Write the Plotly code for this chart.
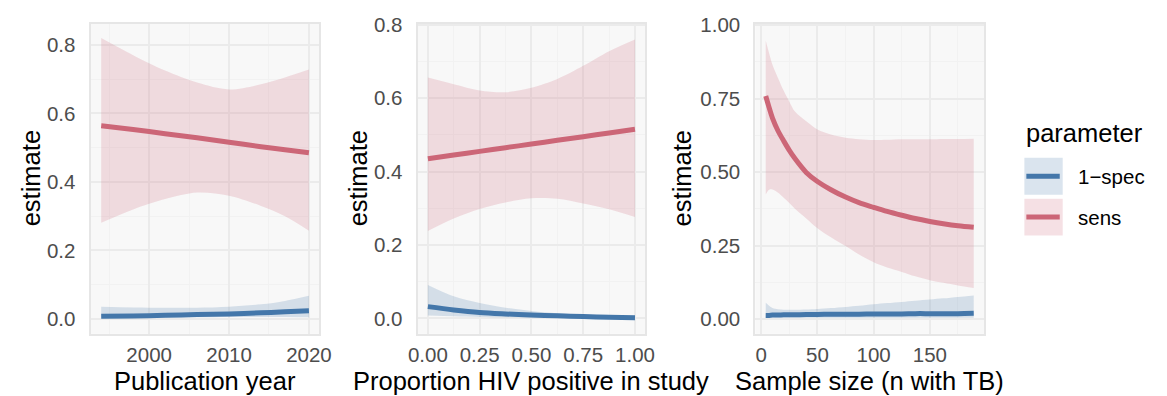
import plotly.graph_objects as go

W, H = 1167, 396

# ---- Publication year panel ----
year = [1994, 1998, 2002, 2006, 2010, 2014, 2017, 2020]
year_sens = [0.564, 0.553, 0.541, 0.529, 0.516, 0.503, 0.494, 0.485]
year_sens_lo = [0.281, 0.320, 0.350, 0.369, 0.360, 0.330, 0.300, 0.258]
year_sens_hi = [0.820, 0.770, 0.725, 0.690, 0.670, 0.685, 0.705, 0.728]
year_spec = [0.008, 0.009, 0.011, 0.013, 0.015, 0.018, 0.021, 0.024]
year_spec_lo = [0.002, 0.003, 0.004, 0.005, 0.006, 0.006, 0.006, 0.005]
year_spec_hi = [0.036, 0.034, 0.033, 0.033, 0.036, 0.043, 0.053, 0.068]

# ---- Proportion HIV positive panel ----
hiv = [0.0, 0.125, 0.25, 0.375, 0.5, 0.625, 0.75, 0.875, 1.0]
hiv_sens = [0.435, 0.445, 0.455, 0.465, 0.475, 0.485, 0.495, 0.505, 0.515]
hiv_sens_lo = [0.238, 0.272, 0.298, 0.316, 0.327, 0.326, 0.313, 0.297, 0.276]
hiv_sens_hi = [0.656, 0.638, 0.621, 0.616, 0.628, 0.652, 0.688, 0.728, 0.760]
hiv_spec = [0.032, 0.023, 0.016, 0.012, 0.009, 0.007, 0.005, 0.003, 0.002]
hiv_spec_lo = [0.008, 0.006, 0.004, 0.003, 0.002, 0.002, 0.001, 0.001, 0.001]
hiv_spec_hi = [0.091, 0.060, 0.042, 0.029, 0.020, 0.014, 0.011, 0.009, 0.007]

# ---- Sample size panel ----
ntb = [4, 7, 10, 15, 20, 25, 30, 40, 50, 62, 75, 87, 100, 112, 125, 137, 150, 162, 175, 189]
ntb_sens = [0.759, 0.720, 0.684, 0.640, 0.606, 0.574, 0.546, 0.499, 0.468, 0.440,
            0.415, 0.396, 0.380, 0.366, 0.353, 0.342, 0.332, 0.324, 0.317, 0.312]
ntb_sens_lo = [0.424, 0.440, 0.441, 0.430, 0.413, 0.395, 0.375, 0.342, 0.309, 0.278,
               0.248, 0.219, 0.193, 0.175, 0.160, 0.145, 0.132, 0.123, 0.114, 0.105]
ntb_sens_hi = [0.948, 0.905, 0.866, 0.820, 0.777, 0.740, 0.706, 0.673, 0.645, 0.628,
               0.617, 0.612, 0.609, 0.610, 0.612, 0.612, 0.612, 0.613, 0.613, 0.614]
ntb_spec = [0.012, 0.012, 0.013, 0.013, 0.014, 0.014, 0.014, 0.015, 0.015, 0.016,
            0.016, 0.016, 0.017, 0.017, 0.017, 0.018, 0.018, 0.018, 0.018, 0.019]
ntb_spec_lo = [0.005, 0.005, 0.005, 0.004, 0.004, 0.004, 0.004, 0.004, 0.004, 0.004,
               0.004, 0.004, 0.004, 0.004, 0.004, 0.004, 0.004, 0.004, 0.004, 0.004]
ntb_spec_hi = [0.055, 0.045, 0.037, 0.033, 0.031, 0.031, 0.031, 0.032, 0.034, 0.037,
               0.041, 0.045, 0.050, 0.054, 0.058, 0.062, 0.066, 0.070, 0.075, 0.080]

parameters = ["1\u2212spec", "sens"]
x_titles = ["Publication year", "Proportion HIV positive in study", "Sample size (n with TB)"]

BLUE = "#4477AA"
RED = "#CC6677"
BLUE_FILL = "rgba(68,119,170,0.2)"
RED_FILL = "rgba(204,102,119,0.2)"
FONT = "Liberation Sans, Arial, Helvetica, sans-serif"
TICK_SIZE = 20.5
TITLE_SIZE = 25.5

panels = [
    (year, year_spec, year_spec_lo, year_spec_hi, year_sens, year_sens_lo, year_sens_hi),
    (hiv, hiv_spec, hiv_spec_lo, hiv_spec_hi, hiv_sens, hiv_sens_lo, hiv_sens_hi),
    (ntb, ntb_spec, ntb_spec_lo, ntb_spec_hi, ntb_sens, ntb_sens_lo, ntb_sens_hi),
]

# panel boxes in pixels: (left, right, top, bottom)
boxes = [(83, 316, 13, 332), (416, 648, 13, 332), (760, 993, 13, 332)]

fig = go.Figure()

for i, (x, s, slo, shi, r, rlo, rhi) in enumerate(panels):
    xa = "x" if i == 0 else f"x{i+1}"
    ya = "y" if i == 0 else f"y{i+1}"
    line_common = dict(shape="spline", smoothing=0.9)
    # ribbons first
    for lo, hi, fill in ((slo, shi, BLUE_FILL), (rlo, rhi, RED_FILL)):
        fig.add_trace(go.Scatter(x=x, y=lo, mode="lines", line=dict(width=0, **line_common),
                                 xaxis=xa, yaxis=ya, showlegend=False, hoverinfo="skip"))
        fig.add_trace(go.Scatter(x=x, y=hi, mode="lines", line=dict(width=0, **line_common),
                                 fill="tonexty", fillcolor=fill,
                                 xaxis=xa, yaxis=ya, showlegend=False, hoverinfo="skip"))
    # estimate lines
    fig.add_trace(go.Scatter(x=x, y=s, mode="lines", name=parameters[0],
                             line=dict(color=BLUE, width=5, **line_common),
                             xaxis=xa, yaxis=ya, showlegend=False))
    fig.add_trace(go.Scatter(x=x, y=r, mode="lines", name=parameters[1],
                             line=dict(color=RED, width=5, **line_common),
                             xaxis=xa, yaxis=ya, showlegend=False))

GRID = "#EBEBEB"
MINOR = "#F2F2F2"
BORDER = "#E6E6E6"

def axis_common(ticklen):
    return dict(showgrid=True, gridcolor=GRID, gridwidth=1.8, zeroline=False,
                showline=True, mirror=True, linecolor=BORDER, linewidth=2,
                ticks="outside", ticklen=ticklen, tickcolor="rgba(0,0,0,0)",
                tickfont=dict(family=FONT, size=TICK_SIZE, color="#4D4D4D"))

x_specs = [
    dict(range=[1992.66, 2021.3], tickvals=[2000, 2010, 2020], ticktext=["2000", "2010", "2020"],
         minor=dict(tickmode="array", tickvals=[1995, 2005, 2015], showgrid=True, gridcolor=MINOR, gridwidth=1)),
    dict(range=[-0.05, 1.05], tickvals=[0, 0.25, 0.5, 0.75, 1.0],
         ticktext=["0.00", "0.25", "0.50", "0.75", "1.00"],
         minor=dict(tickmode="array", tickvals=[0.125, 0.375, 0.625, 0.875], showgrid=True, gridcolor=MINOR, gridwidth=1)),
    dict(range=[-5.25, 198.25], tickvals=[0, 50, 100, 150], ticktext=["0", "50", "100", "150"],
         minor=dict(tickmode="array", tickvals=[25, 75, 125, 175], showgrid=True, gridcolor=MINOR, gridwidth=1)),
]
y_specs = [
    dict(range=[-0.043, 0.862], tickvals=[0, 0.2, 0.4, 0.6, 0.8],
         ticktext=["0.0", "0.2", "0.4", "0.6", "0.8"],
         minor=dict(tickmode="array", tickvals=[0.1, 0.3, 0.5, 0.7], showgrid=True, gridcolor=MINOR, gridwidth=1)),
    dict(range=[-0.042, 0.803], tickvals=[0, 0.2, 0.4, 0.6, 0.8],
         ticktext=["0.0", "0.2", "0.4", "0.6", "0.8"],
         minor=dict(tickmode="array", tickvals=[0.1, 0.3, 0.5, 0.7], showgrid=True, gridcolor=MINOR, gridwidth=1)),
    dict(range=[-0.0506, 1.0056], tickvals=[0, 0.25, 0.5, 0.75, 1.0],
         ticktext=["0.00", "0.25", "0.50", "0.75", "1.00"],
         minor=dict(tickmode="array", tickvals=[0.125, 0.375, 0.625, 0.875], showgrid=True, gridcolor=MINOR, gridwidth=1)),
]

layout = dict(width=W, height=H, margin=dict(l=0, r=0, t=0, b=0),
              paper_bgcolor="white", plot_bgcolor="#F8F8F8", showlegend=False,
              font=dict(family=FONT, color="black"))

annotations = []
shapes = []
y_title_x = [22, 355, 685]
for i, (l, r, t, b) in enumerate(boxes):
    xk = "xaxis" if i == 0 else f"xaxis{i+1}"
    yk = "yaxis" if i == 0 else f"yaxis{i+1}"
    xa = "x" if i == 0 else f"x{i+1}"
    ya = "y" if i == 0 else f"y{i+1}"
    layout[xk] = dict(domain=[l / W, r / W], anchor=ya, fixedrange=True, **axis_common(2), **x_specs[i])
    layout[yk] = dict(domain=[1 - b / H, 1 - t / H], anchor=xa, fixedrange=True, **axis_common(9), **y_specs[i])
    annotations.append(dict(text=x_titles[i], xref="paper", yref="paper",
                            x=(l + r) / 2 / W, y=1 - 381 / H, xanchor="center", yanchor="middle",
                            showarrow=False, font=dict(family=FONT, size=TITLE_SIZE, color="black")))
    annotations.append(dict(text="estimate", xref="paper", yref="paper", textangle=-90,
                            x=y_title_x[i] / W, y=1 - (t + b) / 2 / H, xanchor="center", yanchor="middle",
                            showarrow=False, font=dict(family=FONT, size=TITLE_SIZE, color="black")))

# legend drawn as keys + labels
annotations.append(dict(text="parameter", xref="paper", yref="paper", x=1034 / W, y=1 - 126 / H,
                        xanchor="left", yanchor="middle", showarrow=False,
                        font=dict(family=FONT, size=TITLE_SIZE, color="black")))
for k, (name, col, fill) in enumerate(zip(parameters, [BLUE, RED], [BLUE_FILL, RED_FILL])):
    top = 151 + k * 42
    bot = top + 38
    mid = (top + bot) / 2
    shapes.append(dict(type="rect", xref="paper", yref="paper", x0=1034 / W, x1=1073 / W,
                       y0=1 - bot / H, y1=1 - top / H, fillcolor=fill, line=dict(width=0), layer="above"))
    shapes.append(dict(type="line", xref="paper", yref="paper", x0=1036 / W, x1=1070 / W,
                       y0=1 - mid / H, y1=1 - mid / H, line=dict(color=col, width=5), layer="above"))
    annotations.append(dict(text=name, xref="paper", yref="paper", x=1087 / W, y=1 - mid / H,
                            xanchor="left", yanchor="middle", showarrow=False,
                            font=dict(family=FONT, size=TICK_SIZE, color="black")))

layout["annotations"] = annotations
layout["shapes"] = shapes
fig.update_layout(**layout)

fig.write_html("out.html", config={"displayModeBar": False})
